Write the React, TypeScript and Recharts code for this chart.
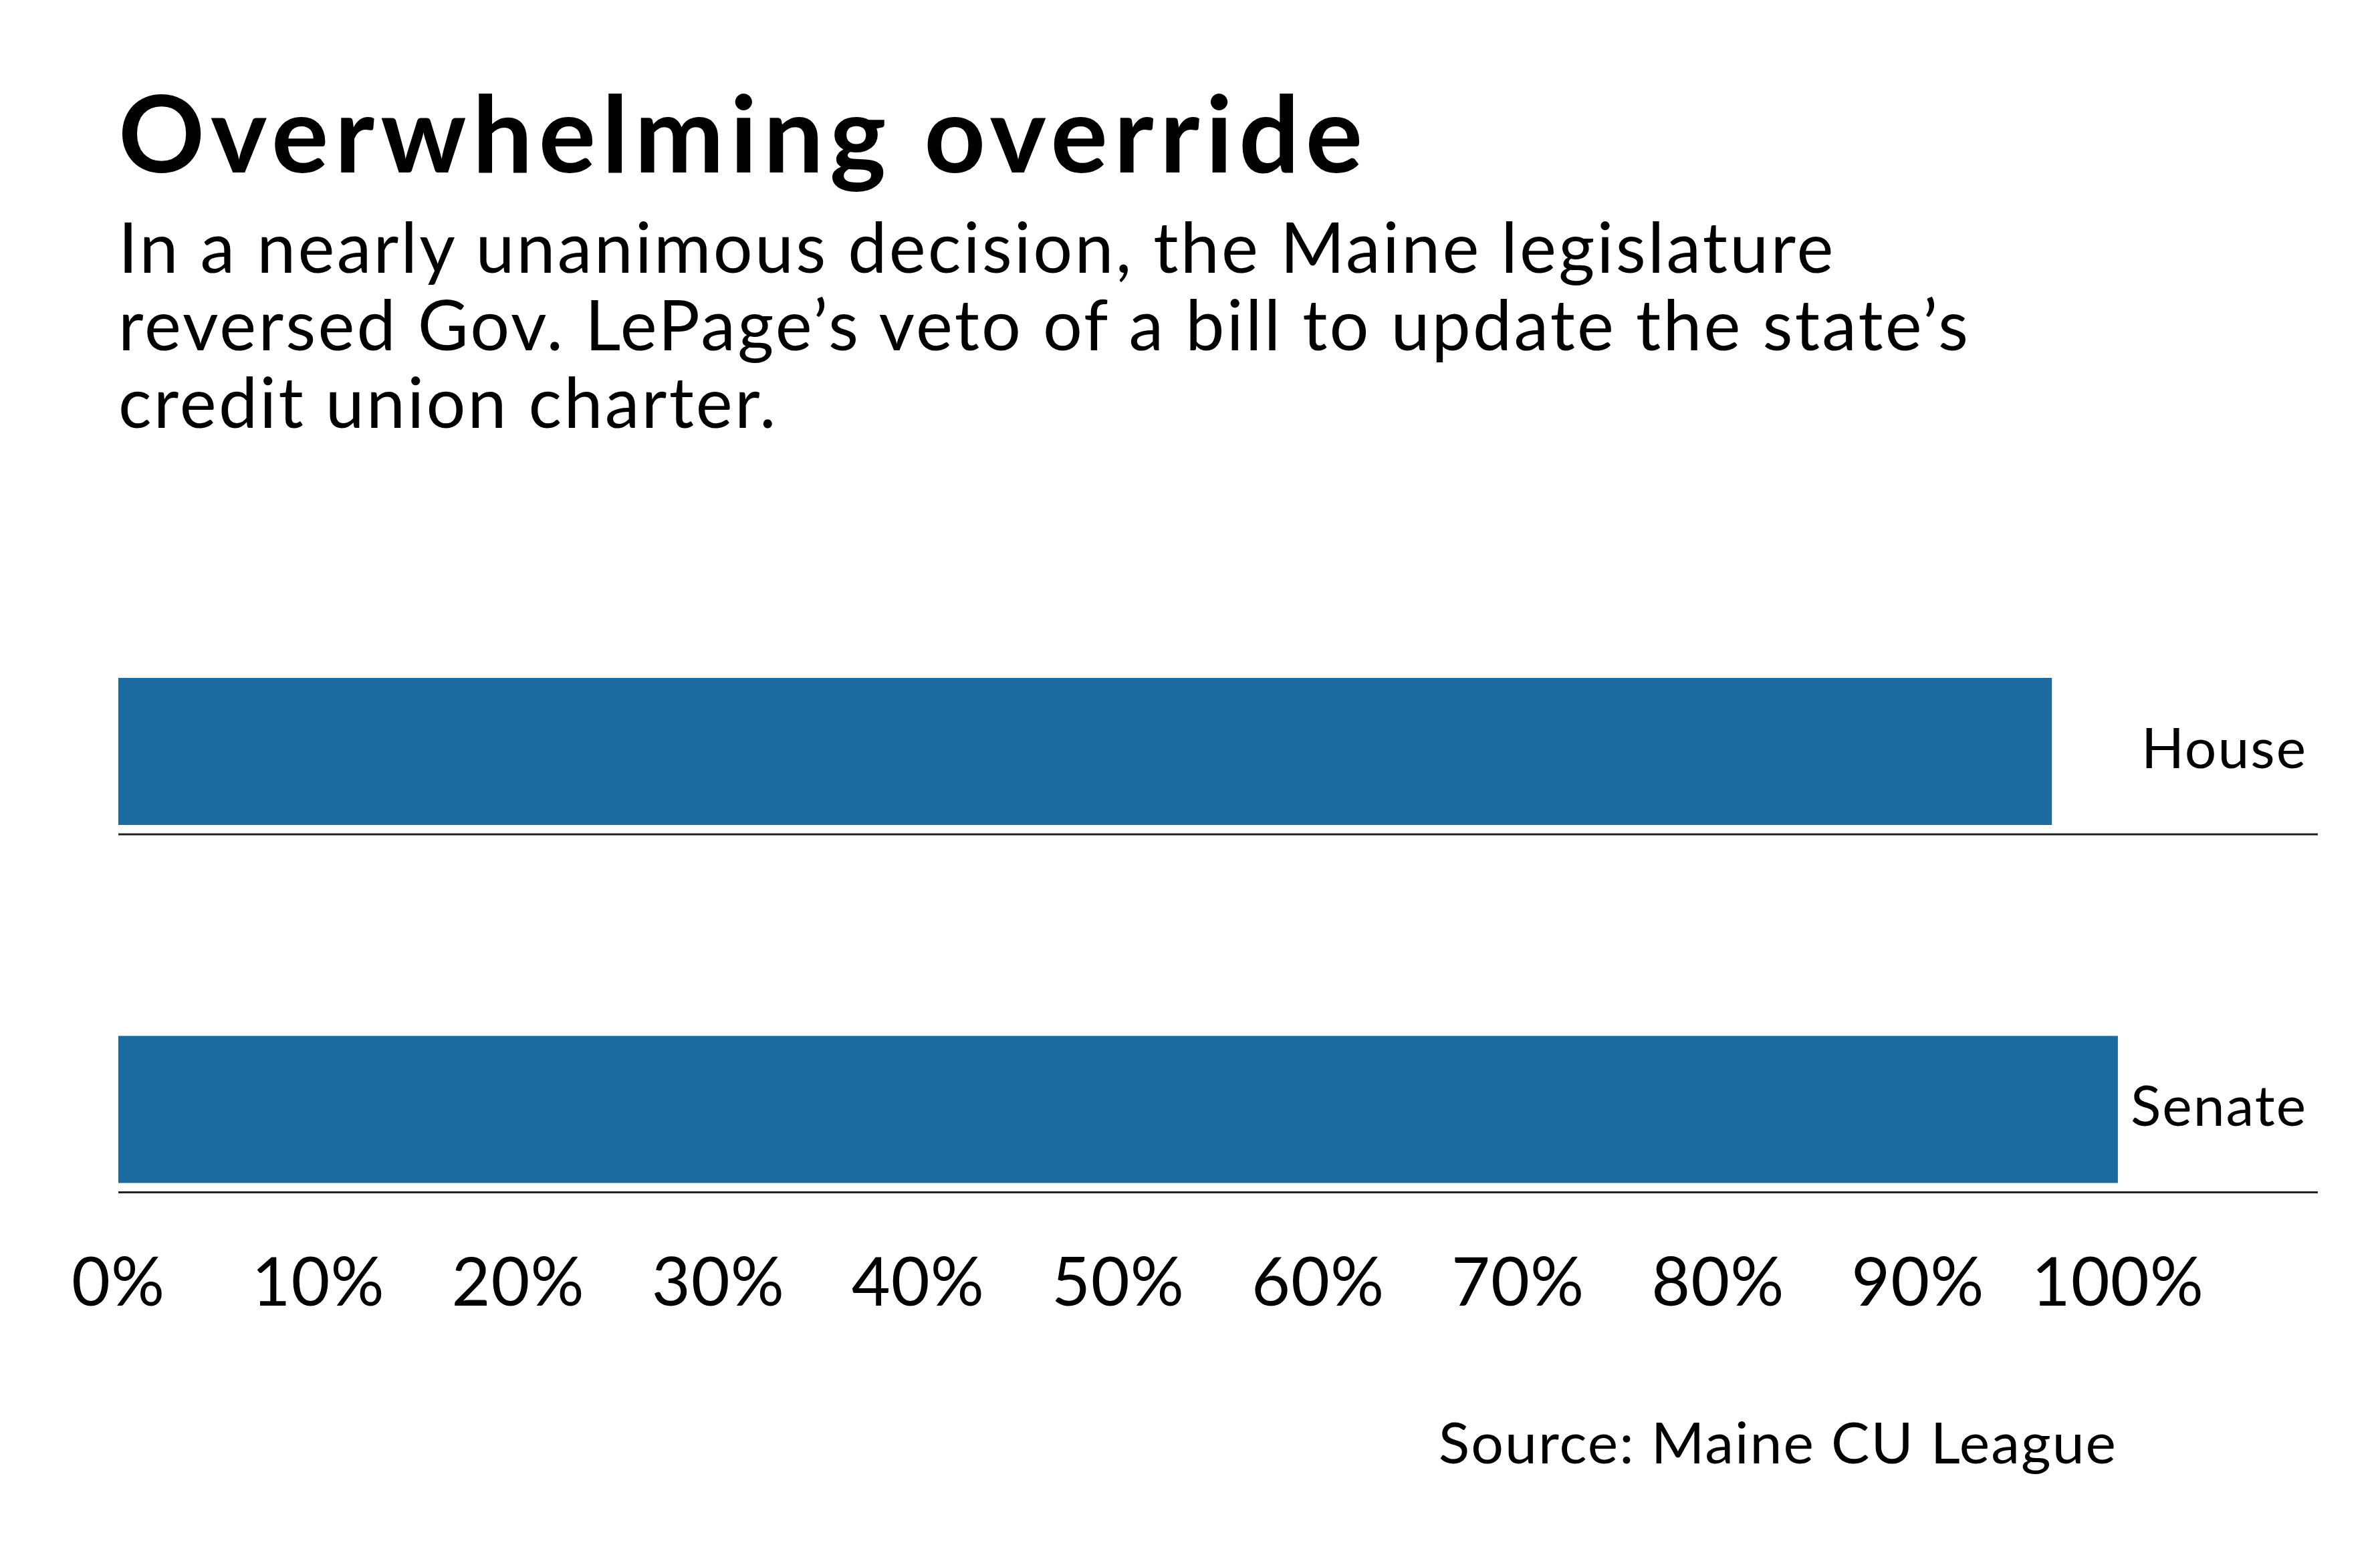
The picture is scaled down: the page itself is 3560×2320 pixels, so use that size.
import React from 'react';
import { BarChart, Bar, XAxis, YAxis } from 'recharts';

const categories = ['House', 'Senate'];
const shares = [96.7, 100];
const tickValues = [0, 10, 20, 30, 40, 50, 60, 70, 80, 90, 100];
const tickLabels = tickValues.map((t) => `${t}%`);

const titleText = 'Overwhelming override';
const subtitleLines = [
  'In a nearly unanimous decision, the Maine legislature',
  'reversed Gov. LePage\u2019s veto of a bill to update the state\u2019s',
  'credit union charter.',
];
const sourceText = 'Source: Maine CU League';

const data = categories.map((name, i) => ({ name, value: shares[i] }));

const FONT = 'Lato, "Open Sans", sans-serif';
const BAR_COLOR = '#1c6a9f';

const BarWithRule = (props: any) => {
  const { x, y, width, height, background, fill } = props;
  const right = background ? background.x + background.width : x + width;
  const ly = y + height + 14;
  return (
    <g>
      <rect x={x} y={y} width={width} height={height} fill={fill} />
      <line x1={x} x2={right} y1={ly} y2={ly} stroke="#222" strokeWidth={3} />
    </g>
  );
};

const XTick = (props: any) => {
  const { x, y, payload } = props;
  const idx = tickValues.indexOf(payload.value);
  return (
    <text x={x} y={y + 26} textAnchor="middle" fontFamily={FONT} fontSize={100} letterSpacing={1} fill="#000">
      {tickLabels[idx] ?? `${payload.value}%`}
    </text>
  );
};

const YTick = (props: any) => {
  const { x, y, payload } = props;
  return (
    <text
      x={x}
      y={y}
      dy="0.3em"
      textAnchor="end"
      fontFamily={FONT}
      fontSize={84}
      letterSpacing={2}
      fill="#000"
    >
      {payload.value}
    </text>
  );
};

export default function App() {
  return (
    <div style={{ position: 'absolute', left: 0, top: 0, width: 3560, height: 2320, background: '#fff' }}>
      <BarChart
        width={3560}
        height={2320}
        data={data}
        layout="vertical"
        barSize={220}
        margin={{ top: 856, right: 93, bottom: 392, left: 177 }}
      >
        <XAxis
          type="number"
          domain={[0, 110]}
          ticks={tickValues}
          axisLine={false}
          tickLine={false}
          tickSize={0}
          tickMargin={0}
          height={1}
          tick={<XTick />}
          interval={0}
        />
        <YAxis
          type="category"
          dataKey="name"
          orientation="right"
          mirror
          width={1}
          axisLine={false}
          tickLine={false}
          tickSize={0}
          tickMargin={16}
          tick={<YTick />}
          interval={0}
        />
        <Bar dataKey="value" fill={BAR_COLOR} isAnimationActive={false} shape={<BarWithRule />} />
      </BarChart>
      <svg
        width={3560}
        height={2320}
        style={{ position: 'absolute', left: 0, top: 0, pointerEvents: 'none' }}
      >
        <text
          x={177}
          y={258}
          fontFamily={FONT}
          fontWeight={700}
          fontSize={160}
          letterSpacing={9}
          fill="#000"
        >
          {titleText}
        </text>
        {subtitleLines.map((line, i) => (
          <text
            key={i}
            x={177}
            y={408 + i * 116}
            fontFamily={FONT}
            fontSize={104}
            letterSpacing={3.2}
            fill="#000"
          >
            {line}
          </text>
        ))}
        <text
          x={3167}
          y={2189}
          textAnchor="end"
          fontFamily={FONT}
          fontSize={86}
          letterSpacing={2}
          fill="#000"
        >
          {sourceText}
        </text>
      </svg>
    </div>
  );
}
